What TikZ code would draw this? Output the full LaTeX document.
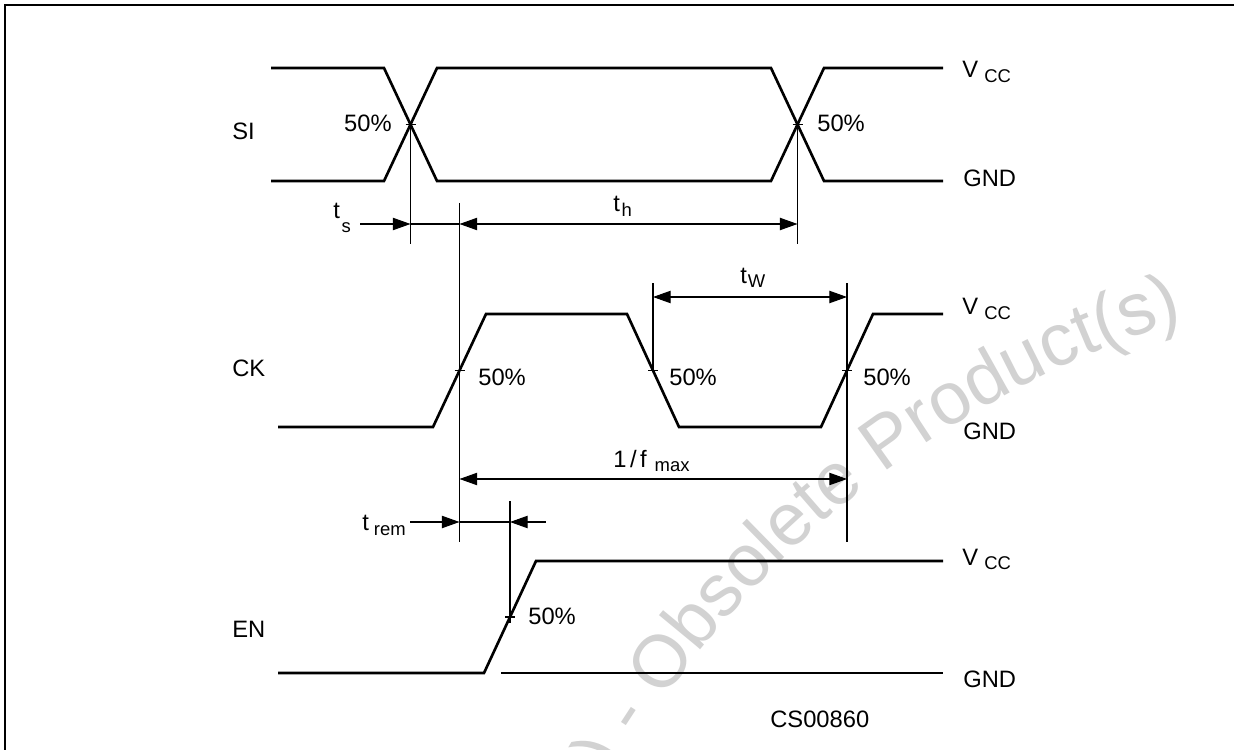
\documentclass[tikz,border=0pt]{standalone}
\usepackage{fontspec}
\setmainfont{Liberation Sans}
\usetikzlibrary{arrows.meta,decorations.text}
\definecolor{markgray}{RGB}{210,210,210}
\newcommand{\lowsub}[2]{\raisebox{-#1}{\fontsize{10.5}{12}\selectfont #2}}
\tikzset{
  wave/.style={black, line width=1.5pt},
  guide/.style={black, line width=0.6pt},
  frame/.style={black, line width=1.5pt},
  dimtip/.style={guide, -{Triangle[length=10pt,width=7pt]}},
  tipdim/.style={guide, {Triangle[length=10pt,width=7pt]}-},
  dimline/.style={guide, {Triangle[length=10pt,width=7pt]}-{Triangle[length=10pt,width=7pt]}},
  lab/.style={font=\fontsize{13.5}{15}\selectfont, inner sep=0pt},
}

\begin{document}
\begin{tikzpicture}[x=0.02cm,y=-0.02cm]
  \useasboundingbox (0,0) rectangle (1235,750);
  \fill[white] (0,0) rectangle (1235,750);

  % watermark
  \begin{scope}
    \clip (0,0) rectangle (1235,750);
    \path[decorate, decoration={text along path, text align=left,
      text={|\fontsize{42}{42}\selectfont\color{markgray}|Product(s) - Obsolete Product(s)}}]
      (503,1070) arc[start angle=191.8, end angle=258, radius=1000];
  \end{scope}

  \draw[frame] (5,750) -- (5,5) -- (1234,5);

  % SI lane.
  \node[lab, anchor=base west] (SI) at (232,140) {SI};
  \draw[wave] (271,68) -- (384,68) -- (437,181) -- (771,181) -- (824,68) -- (943,68);
  \draw[wave] (271,181) -- (384,181) -- (437,68) -- (771,68) -- (824,181) -- (943,181);
  \coordinate (SIA) at (410.5,124.5);
  \coordinate (SIB) at (797.5,124.5);
  \node[lab, anchor=base east] (SIAL) at (392,132) {50\%};
  \node[lab, anchor=base west] (SIBL) at (817,132) {50\%};
  \node[lab, anchor=base west] (SIV) at (962,78) {V\hspace{3.5pt}\lowsub{2.8pt}{CC}};
  \node[lab, anchor=base west] (SIG) at (963,187) {GND};

  % CK lane.
  \node[lab, anchor=base west] (CK) at (232,376) {CK};
  \draw[wave] (278,427) -- (433,427) -- (486,314) -- (627,314) -- (679,427)
    -- (821,427) -- (873,314) -- (943,314);
  \coordinate (CKA) at (459.5,370.5);
  \coordinate (CKB) at (653,370.5);
  \coordinate (CKC) at (847,370.5);
  \node[lab, anchor=base west] (CKAL) at (478,385) {50\%};
  \node[lab, anchor=base west] (CKBL) at (669,385) {50\%};
  \node[lab, anchor=base west] (CKCL) at (863,385) {50\%};
  \node[lab, anchor=base west] (CKV) at (962,315) {V\hspace{3.5pt}\lowsub{2.8pt}{CC}};
  \node[lab, anchor=base west] (CKG) at (963,439) {GND};

  % EN lane.
  \node[lab, anchor=base west] (EN) at (232,637) {EN};
  \draw[wave] (278,673) -- (484,673) -- (536,561) -- (943,561);
  \draw[guide] (501,673) -- (943,673);
  \coordinate (ENA) at (510,617);
  \node[lab, anchor=base west] (ENAL) at (528,624) {50\%};
  \node[lab, anchor=base west] (ENV) at (962,565) {V\hspace{3.5pt}\lowsub{2.8pt}{CC}};
  \node[lab, anchor=base west] (ENG) at (963,687) {GND};

  % reference lines and 50% ticks
  \draw[guide] (SIA) -- ++(0,119);
  \draw[guide] (SIB) -- ++(0,119);
  \draw[guide] (CKA) ++(0,-167.5) -- ++(0,339);
  \draw[guide] (CKB) -- ++(0,-87.5);
  \draw[guide] (CKC) ++(0,-87.5) -- ++(0,259);
  \draw[guide] (ENA) ++(0,-116) -- ++(0,122);
  \foreach \p in {SIA,SIB,CKA,CKB,CKC,ENA}
    \draw[guide] (\p) ++(-5,0) -- ++(10,0);

  % setup and hold
  \coordinate (TS) at (360,224);
  \draw[dimtip] (TS) -- (SIA |- TS);
  \draw[guide] (SIA |- TS) -- (CKA |- TS);
  \draw[dimline] (CKA |- TS) -- (SIB |- TS);
  \node[lab, anchor=base west] (TSL) at (333,218) {t\hspace{1pt}\lowsub{8pt}{s}};
  \node[lab, anchor=base west] (THL) at (613,212) {t\hspace{1pt}\lowsub{2.8pt}{h}};

  % pulse width and period
  \coordinate (TW) at (653,297);
  \draw[dimline] (CKB |- TW) -- (CKC |- TW);
  \node[lab, anchor=base west] (TWL) at (740,283) {t\hspace{0.5pt}\lowsub{2.8pt}{W}};
  \coordinate (FM) at (459.5,479);
  \draw[dimline] (CKA |- FM) -- (CKC |- FM);
  \node[lab, anchor=base west] (FML) at (613,467)
    {1\hspace{2pt}/\hspace{2pt}f\hspace{4.5pt}\lowsub{2.8pt}{max}};

  % removal time
  \coordinate (TR) at (410,522);
  \draw[dimtip] (TR) -- (CKA |- TR);
  \draw[guide] (CKA |- TR) -- (ENA |- TR);
  \draw[tipdim] (ENA |- TR) -- ++(36,0);
  \node[lab, anchor=base west] (TRL) at (362,530) {t\hspace{2.8pt}\lowsub{3.4pt}{rem}};

  \node[lab, anchor=base west] (CODE) at (770,727) {CS00860};
\end{tikzpicture}
\end{document}
